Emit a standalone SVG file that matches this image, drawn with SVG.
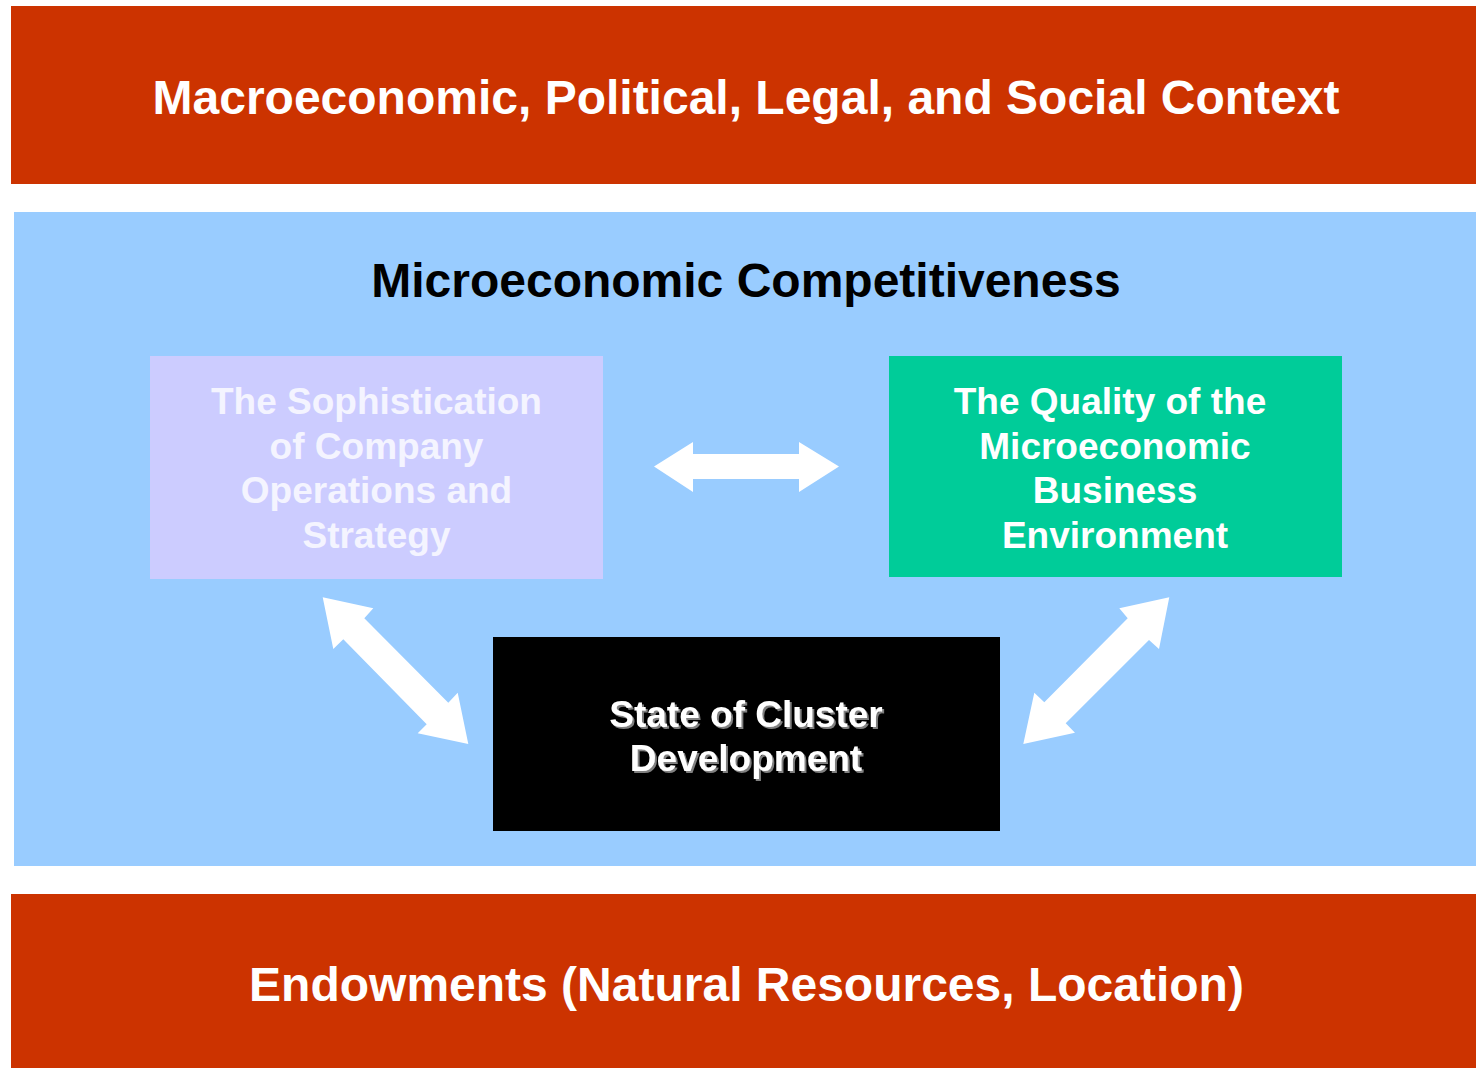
<svg xmlns="http://www.w3.org/2000/svg" width="1476" height="1068" viewBox="0 0 1476 1068">
  <defs>
    <style>
      .t { font-family: "Liberation Sans", Arial, sans-serif; font-weight: bold; text-anchor: middle; }
      .band { fill: #CC3300; }
      .arrow { fill: #FFFFFF; }
    </style>
    <filter id="shadow" x="-10%" y="-20%" width="130%" height="150%">
      <feDropShadow dx="2" dy="2" stdDeviation="0.6" flood-color="#808080" flood-opacity="1"/>
    </filter>
  </defs>
  <rect width="1476" height="1068" fill="#FFFFFF"/>

  <g id="macro-context">
    <rect class="band" x="11" y="6" width="1465" height="178"/>
    <text class="t" x="746" y="114" font-size="48" fill="#FFFFFF">Macroeconomic, Political, Legal, and Social Context</text>
  </g>

  <g id="micro-competitiveness">
    <rect x="14" y="212" width="1462" height="654" fill="#99CCFF"/>
    <text class="t" x="746" y="297" font-size="48" fill="#000000">Microeconomic Competitiveness</text>
  </g>

  <!-- multi-line labels: tspans kept on one line so no trailing space shifts the centring -->
  <g id="company-strategy">
    <rect x="150" y="356" width="453" height="223" fill="#CCCCFF"/>
    <text class="t" font-size="37" fill="#F4F4FF"><tspan x="376.5" y="414">The Sophistication</tspan><tspan x="376.5" y="459">of Company</tspan><tspan x="376.5" y="503">Operations and</tspan><tspan x="376.5" y="548">Strategy</tspan></text>
  </g>

  <g id="business-environment">
    <rect x="889" y="356" width="453" height="221" fill="#00CC99"/>
    <text class="t" font-size="37" fill="#FFFFFF"><tspan x="1110" y="414">The Quality of the</tspan><tspan x="1115" y="459">Microeconomic</tspan><tspan x="1115" y="503">Business</tspan><tspan x="1115" y="548">Environment</tspan></text>
  </g>

  <g id="cluster-development">
    <rect x="493" y="637" width="507" height="194" fill="#000000"/>
    <text class="t" font-size="37" fill="#FFFFFF" filter="url(#shadow)"><tspan x="746" y="727">State of Cluster</tspan><tspan x="746" y="771">Development</tspan></text>
  </g>

  <g id="connectors">
    <polygon class="arrow" points="654,466.5 693,442 693,454 799,454 799,442 839,466.5 799,492 799,479 693,479 693,492"/>
    <polygon class="arrow" points="322.7,597.3 373.3,608.3 364.3,618.3 448.3,702.7 457.7,692.7 468.3,744 417.7,733.3 426.7,724.3 343.3,639.3 333.3,649"/>
    <polygon class="arrow" points="1169.3,597.3 1159,649 1149,640 1065.7,723.3 1075,732.7 1023.3,744 1034.3,692.7 1044.3,702.3 1127.7,618.3 1119.3,608.3"/>
  </g>

  <g id="endowments">
    <rect class="band" x="11" y="894" width="1465" height="174"/>
    <text class="t" x="746.5" y="1001" font-size="48" fill="#FFFFFF">Endowments (Natural Resources, Location)</text>
  </g>
</svg>
